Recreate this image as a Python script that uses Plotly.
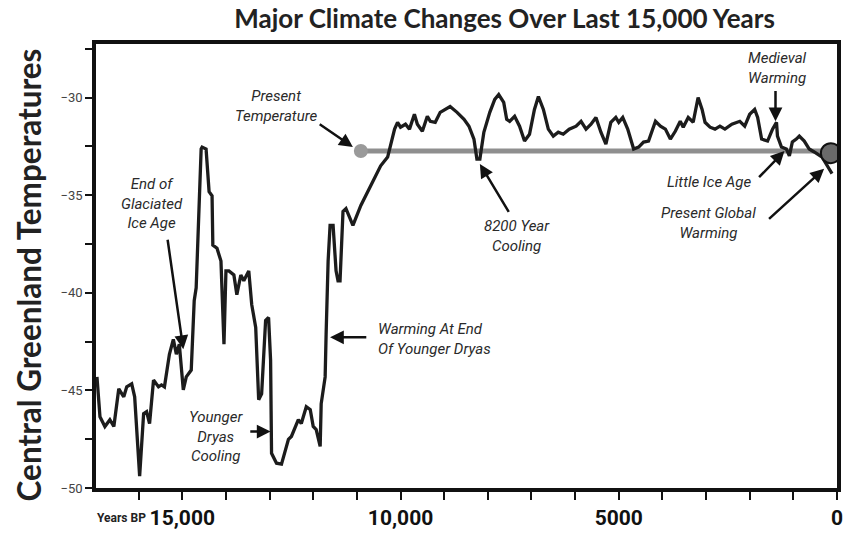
import plotly.graph_objects as go

# ---- data (years before present, central Greenland temperature in deg C) ----
years_bp = [16955, 16886, 16773, 16659, 16568, 16455, 16341, 16273, 16159, 16091,
            15977, 15886, 15818, 15750, 15659, 15545, 15477, 15409, 15295, 15205,
            15136, 15068, 14977, 14909, 14795, 14727, 14682, 14568, 14545, 14455,
            14386, 14318, 14300, 14205, 14114, 14091, 14045, 14000, 13932, 13818,
            13750, 13659, 13591, 13477, 13409, 13318, 13295, 13250, 13182, 13091,
            13023, 12977, 12955, 12841, 12727, 12568, 12500, 12341, 12273, 12159,
            12068, 12000, 11932, 11841, 11818, 11727, 11705, 11659, 11614, 11545,
            11477, 11432, 11386, 11318, 11250, 11159, 11091, 10909, 10682, 10455,
            10295, 10227, 10136, 10068, 10000, 9886, 9795, 9682, 9614, 9500,
            9386, 9318, 9205, 9091, 8864, 8705, 8545, 8432, 8318, 8250,
            8182, 8091, 7955, 7841, 7750, 7636, 7568, 7500, 7386, 7273,
            7159, 7045, 6932, 6841, 6727, 6614, 6500, 6386, 6273, 6136,
            5977, 5864, 5750, 5636, 5523, 5409, 5295, 5182, 5068, 5000,
            4909, 4795, 4659, 4545, 4432, 4318, 4159, 4045, 3932, 3818,
            3705, 3591, 3523, 3409, 3295, 3182, 3091, 3023, 2909, 2795,
            2682, 2568, 2409, 2227, 2114, 2000, 1886, 1818, 1727, 1591,
            1477, 1386, 1364, 1273, 1159, 1091, 1023, 932, 864, 750,
            636, 523, 341, 182, 114]
temps = [-44.31, -46.35, -46.85, -46.50, -46.85, -44.92, -45.33, -44.82, -44.67, -45.33,
         -49.39, -46.19, -46.09, -46.70, -44.47, -44.82, -44.72, -44.82, -43.15, -42.39,
         -43.15, -42.64, -44.97, -44.31, -43.96, -40.41, -39.75, -32.64, -32.54, -32.64,
         -34.82, -35.03, -37.56, -37.72, -38.38, -39.75, -42.64, -38.88, -38.88, -39.09,
         -40.10, -39.09, -39.39, -38.88, -40.61, -41.78, -43.45, -45.48, -45.18, -41.42,
         -41.27, -43.45, -48.22, -48.73, -48.78, -47.51, -47.36, -46.50, -46.70, -45.84,
         -45.99, -46.85, -47.01, -47.87, -45.69, -44.31, -42.13, -38.38, -36.55, -36.55,
         -38.88, -39.39, -39.39, -35.84, -35.69, -36.19, -36.55, -35.53, -34.52, -33.50,
         -33.05, -32.49, -31.62, -31.27, -31.52, -31.37, -31.62, -30.86, -31.37, -31.73,
         -30.96, -31.22, -31.27, -30.76, -30.46, -30.76, -31.12, -31.47, -32.13, -33.15,
         -33.15, -31.78, -30.76, -30.10, -29.85, -30.25, -31.12, -31.22, -30.96, -31.47,
         -32.23, -31.88, -30.61, -29.95, -30.61, -31.62, -31.98, -31.78, -31.88, -31.62,
         -31.47, -31.22, -31.62, -31.37, -31.02, -31.78, -32.39, -31.27, -31.02, -31.27,
         -31.02, -31.62, -32.64, -32.54, -32.28, -32.23, -31.22, -31.47, -31.62, -32.13,
         -31.73, -31.22, -31.52, -31.02, -31.27, -30.00, -30.61, -31.27, -31.52, -31.62,
         -31.47, -31.62, -31.37, -31.22, -31.47, -30.86, -30.61, -31.02, -32.13, -32.23,
         -31.62, -31.27, -31.98, -32.54, -32.64, -32.99, -32.28, -32.13, -31.98, -32.23,
         -32.64, -32.79, -33.05, -33.65, -33.90]

present_temp = -32.74
present_line_years = [10909, 0]
present_global_point = (140, -32.85)

x_tickvals = [15000, 10000, 5000, 0]
x_ticktext = ["15,000", "10,000", "5000", "0"]
y_tickvals = [-30, -35, -40, -45, -50]

# annotation labels: (text, x, y, xanchor)
labels = [
    ("Present<br>Temperature", 12864, -30.46, "center"),
    ("End of<br>Glaciated<br>Ice Age", 15705, -35.43, "center"),
    ("Younger<br>Dryas<br>Cooling", 14205, -47.36, "center"),
    ("Warming At End<br>Of Younger Dryas", 10568, -42.39, "left"),
    ("8200 Year<br>Cooling", 7341, -37.11, "center"),
    ("Medieval<br>Warming", 1364, -28.48, "center"),
    ("Little Ice Age", 1932, -34.31, "right"),
    ("Present Global<br>Warming", 2955, -36.45, "center"),
]
# arrows: (head_x, head_y, tail_x, tail_y)
arrows = [
    (11091, -32.54, 11886, -31.32),
    (14977, -42.89, 15341, -37.21),
    (12977, -47.11, 13477, -47.11),
    (11614, -42.28, 10750, -42.28),
    (8182, -33.40, 7500, -35.94),
    (1409, -31.22, 1409, -29.59),
    (1205, -32.74, 1818, -34.16),
    (295, -33.65, 1591, -36.29),
]

fig = go.Figure()
fig.add_trace(go.Scatter(
    x=present_line_years, y=[present_temp, present_temp], mode="lines",
    line=dict(color="#8f8f8f", width=5), hoverinfo="skip", showlegend=False))
fig.add_trace(go.Scatter(
    x=years_bp, y=temps, mode="lines",
    line=dict(color="#1c1c1c", width=3.3), showlegend=False))
fig.add_trace(go.Scatter(
    x=[present_line_years[0]], y=[present_temp], mode="markers",
    marker=dict(color="#9a9a9a", size=14), showlegend=False))
fig.add_trace(go.Scatter(
    x=[present_global_point[0]], y=[present_global_point[1]], mode="markers",
    marker=dict(color="#6a6a6a", size=20, line=dict(color="#111", width=2)),
    showlegend=False))

ann_font = dict(family="Roboto, Liberation Sans", size=15, color="#2a2a2a", style="italic")
for text, x, y, anchor in labels:
    fig.add_annotation(x=x, y=y, text=text, showarrow=False, xanchor=anchor,
                       yanchor="middle", align=anchor if anchor != "center" else "center",
                       font=ann_font)
for hx, hy, tx, ty in arrows:
    fig.add_annotation(x=hx, y=hy, ax=tx, ay=ty, xref="x", yref="y", axref="x", ayref="y",
                       text="", showarrow=True, arrowhead=2, arrowsize=1.1,
                       arrowwidth=2.5, arrowcolor="#111")

fig.add_annotation(x=-0.002, y=-0.067, xref="paper", yref="paper", text="<b>Years BP</b>",
                   showarrow=False, xanchor="left", yanchor="middle",
                   font=dict(family="Roboto", size=12, color="#222"))

# y-axis title as rotated annotation (sits slightly below plot centre in the original)
fig.add_annotation(x=-0.091, y=0.48, xref="paper", yref="paper",
                   text="<b>Central Greenland Temperatures</b>", textangle=-90,
                   showarrow=False, xanchor="center", yanchor="middle",
                   font=dict(family="Lato", size=31.5, color="#222"))

fig.update_layout(
    width=848, height=535,
    margin=dict(l=96, r=5, t=44, b=43),
    paper_bgcolor="white", plot_bgcolor="white",
    title=dict(text="Major Climate Changes Over Last 15,000 Years", x=0.595, xanchor="center",
               y=0.965, yanchor="middle",
               font=dict(family="Lato", size=26, color="#222", weight="bold")),
    xaxis=dict(range=[16977, 0], tickvals=x_tickvals, ticktext=x_ticktext,
               ticks="outside", ticklen=8, tickwidth=2, tickcolor="#111",
               minor=dict(dtick=1000, ticks="outside", ticklen=8, tickwidth=2, tickcolor="#111"),
               showline=True, linecolor="#111", linewidth=3.5, mirror=True,
               showgrid=False, zeroline=False,
               tickfont=dict(family="Roboto", size=21, color="#111", weight="bold")),
    yaxis=dict(range=[-50, -27.26], tickvals=y_tickvals,
               ticks="outside", ticklen=7, tickwidth=2, tickcolor="#111",
               minor=dict(dtick=2.5, tick0=-50, ticks="outside", ticklen=7, tickwidth=2,
                          tickcolor="#111"),
               showline=True, linecolor="#111", linewidth=3.5, mirror=True,
               showgrid=False, zeroline=False,
               tickfont=dict(family="Roboto", size=13, color="#444")),
)

fig.write_html("out.html", config={"displayModeBar": False},
               post_script="document.body.style.margin='0';")
